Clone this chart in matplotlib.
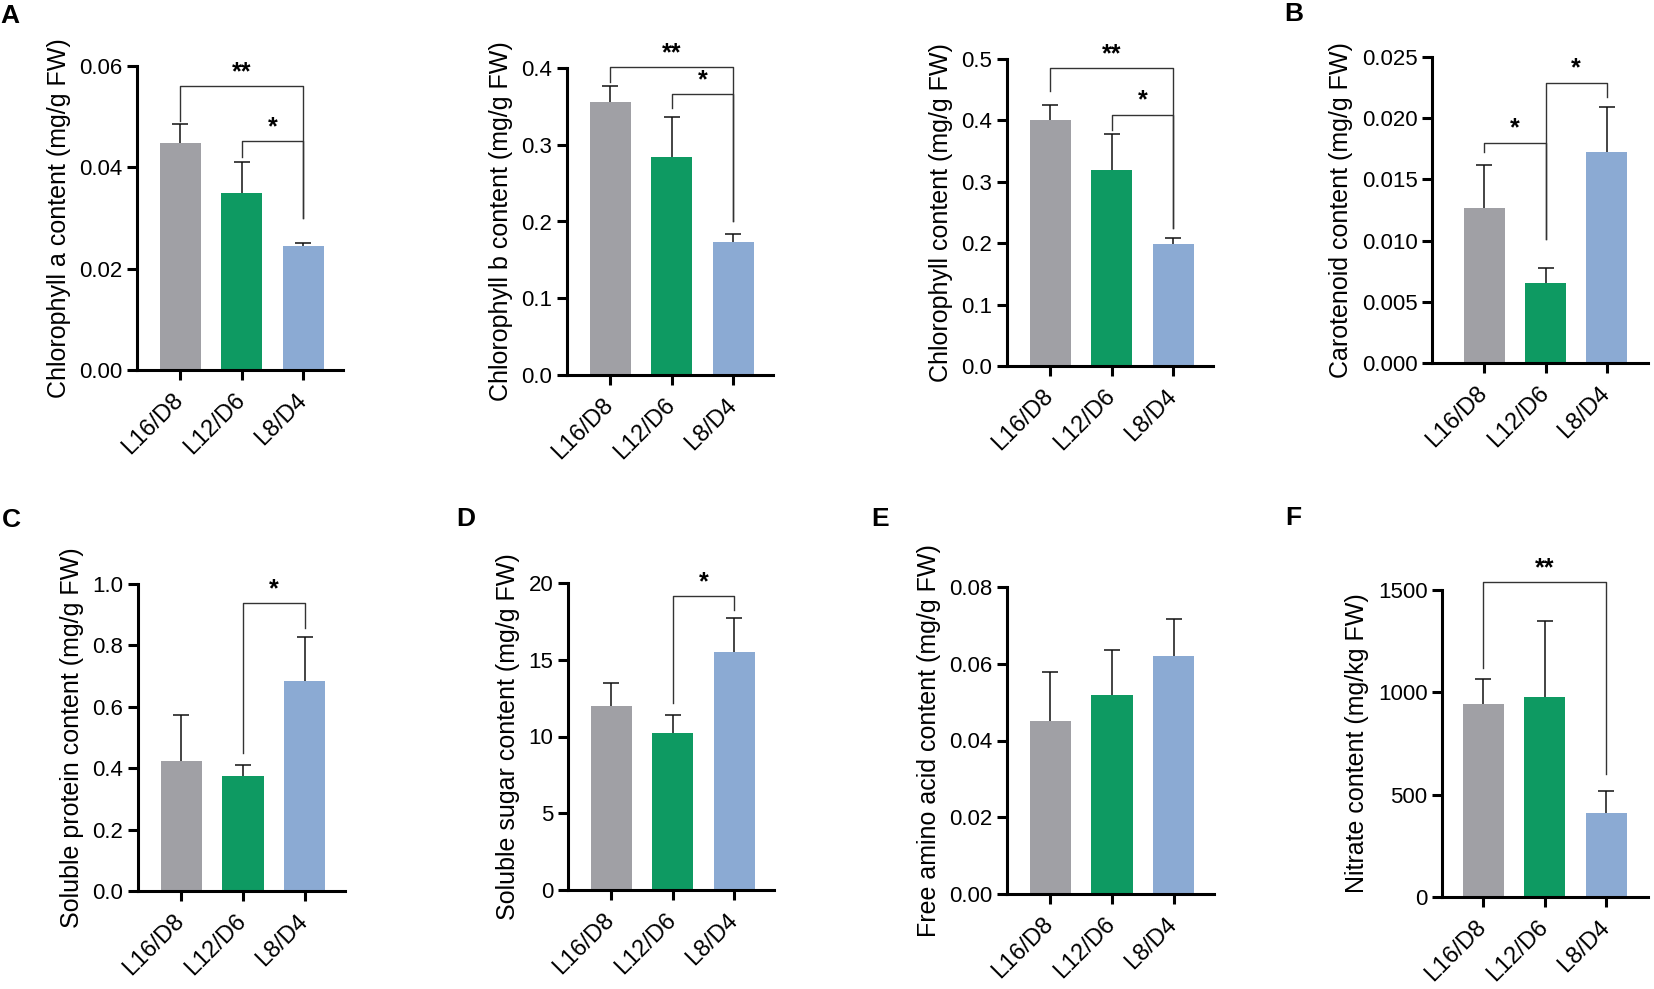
import matplotlib
matplotlib.use("Agg")
import matplotlib.pyplot as plt
import numpy as np

plt.rcParams["font.family"] = ["Liberation Sans", "DejaVu Sans"]

# ── Data ──────────────────────────────────────────────────────────────────────
groups = ["L16/D8", "L12/D6", "L8/D4"]
colors = ["#A0A0A5", "#0E9A62", "#8BAAD3"]

chla_mean = [0.0449, 0.0349, 0.0245]
chla_err = [0.0037, 0.0061, 0.0006]

chlb_mean = [0.356, 0.284, 0.173]
chlb_err = [0.0205, 0.052, 0.011]

chl_mean = [0.401, 0.319, 0.199]
chl_err = [0.024, 0.059, 0.0095]

car_mean = [0.0127, 0.0065, 0.0172]
car_err = [0.0035, 0.0013, 0.0037]

prot_mean = [0.4235, 0.375, 0.684]
prot_err = [0.150, 0.035, 0.143]

sugar_mean = [12.0, 10.23, 15.5]
sugar_err = [1.49, 1.17, 2.22]

amino_mean = [0.0451, 0.0519, 0.062]
amino_err = [0.0127, 0.0117, 0.0097]

nitrate_mean = [943, 977, 410]
nitrate_err = [122, 372, 108]

# brackets: (left group, right group, bracket height, left leg end, right leg end, label)
chla_sig = [(0, 2, 0.056, 0.0491, 0.030, "**"), (1, 2, 0.0451, 0.0421, 0.030, "*")]
chlb_sig = [(0, 2, 0.401, 0.382, 0.200, "**"), (1, 2, 0.366, 0.348, 0.200, "*")]
chl_sig = [(0, 2, 0.485, 0.448, 0.225, "**"), (1, 2, 0.409, 0.384, 0.225, "*")]
car_sig = [(0, 1, 0.0180, 0.0172, 0.0101, "*"), (1, 2, 0.0229, 0.0101, 0.0217, "*")]
prot_sig = [(1, 2, 0.938, 0.450, 0.857, "*")]
sugar_sig = [(1, 2, 19.15, 12.2, 18.24, "*")]
nitrate_sig = [(0, 2, 1539, 1119, 601, "**")]

W, H = 1654, 989


def add_axes(fig, x0, x1, ytop, ybot):
    return fig.add_axes([x0 / W, 1 - ybot / H, (x1 - x0) / W, (ybot - ytop) / H])


def draw_panel(ax, means, errs, ymax, yticks, fmt, ylabel, sig=(), xlim=(-0.70, 2.65)):
    x = np.arange(len(groups))
    tops = np.add(means, errs)
    ax.bar(x, means, width=0.667, color=colors, zorder=2)
    # upper error bars only
    ax.vlines(x, means, tops, color="#111111", lw=1.1, zorder=3)
    ax.hlines(tops, x - 0.13, x + 0.13, color="#111111", lw=1.1, zorder=3)
    ax.set_xlim(*xlim)
    ax.set_ylim(0, ymax)
    ax.set_yticks(yticks)
    ax.set_yticklabels([fmt.format(t) for t in yticks])
    ax.set_xticks(x)
    ax.set_xticklabels(groups, rotation=45, ha="right", va="center",
                       rotation_mode="anchor")
    ax.tick_params(axis="both", width=2.2, length=7.5, color="black")
    ax.tick_params(axis="y", pad=3, labelsize=16)
    ax.tick_params(axis="x", pad=12, labelsize=17)
    for s in ("top", "right"):
        ax.spines[s].set_visible(False)
    for s in ("left", "bottom"):
        ax.spines[s].set_linewidth(2.2)
    ax.set_ylabel(ylabel, fontsize=18, labelpad=6)
    for i, j, yb, yl, yr, lab in sig:
        ax.plot([i, i, j, j], [yl, yb, yb, yr], color="#333333", lw=1.0,
                clip_on=False, zorder=3)
        ax.annotate(lab, xy=((i + j) / 2, yb), xytext=(0, 1.5),
                    textcoords="offset points", ha="center", va="bottom",
                    fontsize=18, fontweight="bold", annotation_clip=False)


fig = plt.figure(figsize=(W / 100, H / 100), dpi=100)
fig.patch.set_facecolor("white")

# ── Row 1 ─────────────────────────────────────────────────────────────────────
ax = add_axes(fig, 137, 343, 66, 370)
draw_panel(ax, chla_mean, chla_err, 0.06, [0, 0.02, 0.04, 0.06], "{:.2f}",
           "Chlorophyll a content (mg/g FW)", chla_sig)

ax = add_axes(fig, 567, 773, 68, 375)
draw_panel(ax, chlb_mean, chlb_err, 0.4, [0, 0.1, 0.2, 0.3, 0.4], "{:.1f}",
           "Chlorophyll b content (mg/g FW)", chlb_sig)

ax = add_axes(fig, 1007, 1213, 59, 366)
draw_panel(ax, chl_mean, chl_err, 0.5, [0, 0.1, 0.2, 0.3, 0.4, 0.5], "{:.1f}",
           "Chlorophyll content (mg/g FW)", chl_sig)

ax = add_axes(fig, 1432, 1648, 57, 363)
draw_panel(ax, car_mean, car_err, 0.025, [0, 0.005, 0.010, 0.015, 0.020, 0.025],
           "{:.3f}", "Carotenoid content (mg/g FW)", car_sig, xlim=(-0.85, 2.67))

# ── Row 2 ─────────────────────────────────────────────────────────────────────
ax = add_axes(fig, 138, 345, 584, 891)
draw_panel(ax, prot_mean, prot_err, 1.0, [0, 0.2, 0.4, 0.6, 0.8, 1.0], "{:.1f}",
           "Soluble protein content (mg/g FW)", prot_sig)

ax = add_axes(fig, 568, 774, 583, 890)
draw_panel(ax, sugar_mean, sugar_err, 20, [0, 5, 10, 15, 20], "{:.0f}",
           "Soluble sugar content (mg/g FW)", sugar_sig)

ax = add_axes(fig, 1007, 1214, 587, 894)
draw_panel(ax, amino_mean, amino_err, 0.08, [0, 0.02, 0.04, 0.06, 0.08], "{:.2f}",
           "Free amino acid content (mg/g FW)")

ax = add_axes(fig, 1442, 1648, 590, 897)
draw_panel(ax, nitrate_mean, nitrate_err, 1500, [0, 500, 1000, 1500], "{:.0f}",
           "Nitrate content (mg/kg FW)", nitrate_sig, xlim=(-0.67, 2.68))

# ── Panel letters ─────────────────────────────────────────────────────────────
for lab, px, py in [("A", 10, 16), ("B", 1294, 14), ("C", 11, 520),
                    ("D", 466, 519), ("E", 880, 519), ("F", 1293, 518)]:
    fig.text(px / W, 1 - py / H, lab, fontsize=19, fontweight="bold",
             ha="center", va="center")

fig.savefig("out.png", dpi=100, facecolor="white")
